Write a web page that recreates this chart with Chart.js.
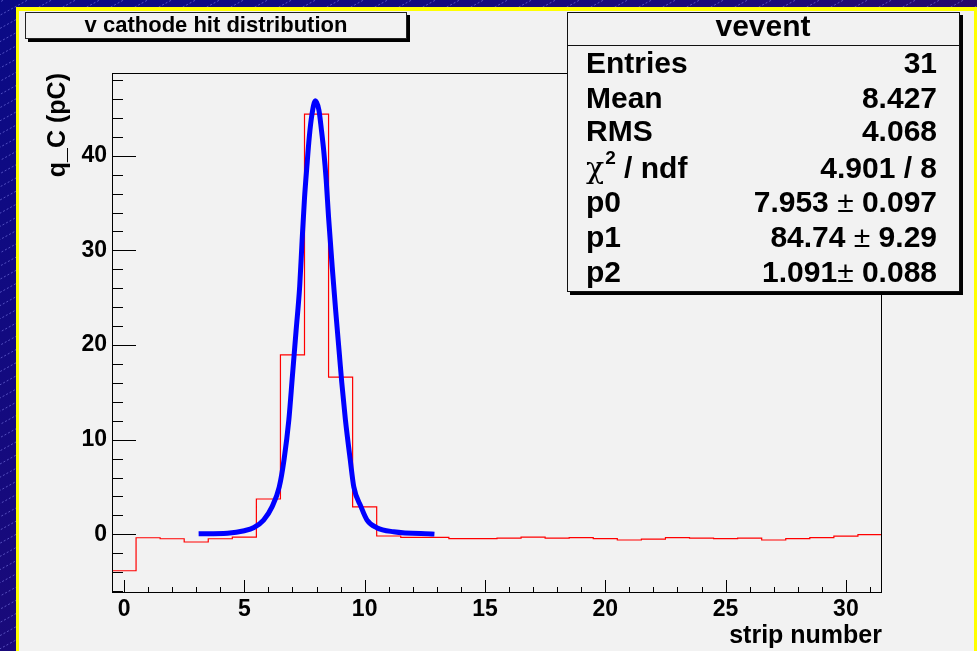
<!DOCTYPE html>
<html>
<head>
<meta charset="utf-8">
<script src="https://cdn.jsdelivr.net/npm/chart.js@4.4.1/dist/chart.umd.min.js"></script>
<style>
  html, body { margin: 0; padding: 0; overflow: hidden; background: #0a0a80; }
  #wrap { width: 977px; height: 651px; }
</style>
</head>
<body>
<div id="wrap"><canvas id="c" width="977" height="651"></canvas></div>
<script>
// Cathode strip numbers and the charge collected on each (pC)
const strips = [0, 1, 2, 3, 4, 5, 6, 7, 8, 9, 10, 11, 12, 13, 14, 15,
                16, 17, 18, 19, 20, 21, 22, 23, 24, 25, 26, 27, 28, 29, 30, 31];
const charge = [-3.85, -0.36, -0.47, -0.81, -0.47, -0.29, 3.73, 18.95,
                44.4, 16.6, 2.89, -0.18, -0.32, -0.32, -0.46, -0.45,
                -0.40, -0.30, -0.40, -0.35, -0.45, -0.60, -0.50, -0.35,
                -0.40, -0.45, -0.40, -0.60, -0.45, -0.35, -0.20, -0.04];

// Fitted peak curve, sampled over the fit range
const fitX = [3.1, 4.3, 5.0, 5.4, 5.8, 6.15, 6.45, 6.65, 6.85, 7.0, 7.15, 7.3, 7.4,
              7.5, 7.6, 7.7, 7.8, 7.95, 8.1, 8.2, 8.3, 8.4, 8.5, 8.65, 8.8, 8.95,
              9.05, 9.2, 9.4, 9.55, 9.85, 10.1, 10.5, 11.2, 12.9];
const fitY = [0.05, 0.12, 0.38, 0.72, 1.5, 2.9, 5.0, 7.9, 12.1, 16.8, 21.5, 26.2, 31.0,
              35.5, 38.9, 42.0, 44.2, 45.8, 44.8, 42.8, 40.5, 37.5, 33.5, 28.3, 23.5, 19.0,
              16.0, 12.1, 7.9, 5.0, 2.9, 1.5, 0.7, 0.27, 0.02];

// Axis labelling
const xTickValues = [0, 5, 10, 15, 20, 25, 30];
const yTickValues = [0, 10, 20, 30, 40];
const xMinorStep = 1;
const yMinorStep = 2;

// Statistics box contents
const histTitle = 'v cathode hit distribution';
const statsName = 'vevent';
const statNames = ['Entries', 'Mean', 'RMS', 'χ² / ndf', 'p0', 'p1', 'p2'];
const statValues = ['31', '8.427', '4.068', '4.901 / 8', '7.953', '84.74', '1.091'];
const statErrors = ['', '', '', '', '0.097', '9.29', '0.088'];

const FONT = '"Liberation Sans", Arial, Helvetica, sans-serif';
const PANEL = '#f2f2f2';

// Histogram outline: each bin becomes a flat segment across its width
const histPoints = strips.flatMap((s, i) => [
  { x: s - 0.5, y: charge[i] },
  { x: s + 0.5, y: charge[i] }
]);
const fitPoints = fitX.map((x, i) => ({ x, y: fitY[i] }));

const backdrop = {
  id: 'backdrop',
  beforeDraw(chart) {
    const ctx = chart.ctx;
    const W = chart.width, H = chart.height;
    ctx.save();
    const g = ctx.createLinearGradient(0, 0, 700, 700);
    g.addColorStop(0, '#0a0a86');
    g.addColorStop(0.55, '#1c0a78');
    g.addColorStop(1, '#3c004e');
    ctx.fillStyle = g;
    ctx.fillRect(0, 0, W, H);
    // diagonal hatch
    ctx.strokeStyle = 'rgba(150,150,255,0.5)';
    ctx.lineWidth = 1;
    ctx.setLineDash([2, 2]);
    for (let k = -1300; k < W + 40; k += 24) {
      ctx.beginPath();
      ctx.moveTo(k, H);
      ctx.lineTo(k + H / 0.55, 0);
      ctx.stroke();
    }
    ctx.setLineDash([]);
    // yellow border and pad
    ctx.fillStyle = '#ffff00';
    ctx.fillRect(16, 7, W - 16, H - 7);
    ctx.fillStyle = PANEL;
    ctx.fillRect(19, 11, W - 19 - 3, H - 11);

    // title box
    const tl = 25, tt = 12, tr = 407, tb = 39;
    ctx.fillStyle = '#000';
    ctx.fillRect(tl + 3, tt + 3, tr - tl, tb - tt);
    ctx.fillStyle = PANEL;
    ctx.fillRect(tl, tt, tr - tl, tb - tt);
    ctx.strokeStyle = '#222';
    ctx.strokeRect(tl + 0.5, tt + 0.5, tr - tl - 1, tb - tt - 1);
    ctx.fillStyle = '#000';
    ctx.font = 'bold 22px ' + FONT;
    ctx.textAlign = 'center';
    ctx.textBaseline = 'alphabetic';
    ctx.fillText(histTitle, (tl + tr) / 2, 32);
    ctx.restore();
  }
};

const frameAndTicks = {
  id: 'frameAndTicks',
  afterDatasetsDraw(chart) {
    const { ctx, chartArea: a, scales: { x, y } } = chart;
    ctx.save();
    ctx.strokeStyle = '#000';
    ctx.lineWidth = 1;
    ctx.strokeRect(Math.round(a.left) + 0.5, Math.round(a.top) + 0.5,
                   Math.round(a.right - a.left) - 1, Math.round(a.bottom - a.top) - 1);
    ctx.beginPath();
    // x ticks, pointing up from the bottom edge
    for (let v = Math.ceil(x.min); v <= x.max; v += xMinorStep) {
      const px = Math.round(x.getPixelForValue(v)) + 0.5;
      const len = xTickValues.includes(v) ? 13 : 6;
      ctx.moveTo(px, a.bottom);
      ctx.lineTo(px, a.bottom - len);
    }
    // y ticks, pointing right from the left edge
    const y0 = Math.ceil(y.min / yMinorStep) * yMinorStep;
    for (let v = y0; v <= y.max; v += yMinorStep) {
      const py = Math.round(y.getPixelForValue(v)) + 0.5;
      const len = yTickValues.includes(v) ? 24 : 11;
      ctx.moveTo(a.left, py);
      ctx.lineTo(a.left + len, py);
    }
    ctx.stroke();
    ctx.restore();
  },
  afterDraw(chart) {
    const ctx = chart.ctx;
    const L = 567, T = 12, R = 960, B = 292;
    const SZ = 30;
    ctx.save();
    ctx.fillStyle = '#000';
    ctx.fillRect(L + 3, T + 3, R - L, B - T);
    ctx.fillStyle = PANEL;
    ctx.fillRect(L, T, R - L, B - T);
    ctx.strokeStyle = '#111';
    ctx.lineWidth = 1;
    ctx.strokeRect(L + 0.5, T + 0.5, R - L - 1, B - T - 1);
    ctx.beginPath();
    ctx.moveTo(L, 45.5);
    ctx.lineTo(R, 45.5);
    ctx.stroke();

    ctx.fillStyle = '#000';
    ctx.textBaseline = 'alphabetic';
    ctx.font = 'bold ' + SZ + 'px ' + FONT;
    ctx.textAlign = 'center';
    ctx.fillText(statsName, 763, 36);

    const baselines = [72.5, 107.5, 141, 178, 211.5, 247, 282];
    const labelX = 586, valueR = 937;
    statNames.forEach((name, i) => {
      const by = baselines[i];
      ctx.textAlign = 'left';
      let cx = labelX;
      if (name.includes('²')) {
        const [pre, post] = name.split('²');
        ctx.font = SZ + 'px "DejaVu Serif", serif';
        ctx.fillText(pre, cx, by);
        cx += ctx.measureText(pre).width + 1;
        ctx.font = 'bold 19px ' + FONT;
        ctx.fillText('2', cx, by - 14);
        cx += ctx.measureText('2').width;
        ctx.font = 'bold ' + SZ + 'px ' + FONT;
        ctx.fillText(post, cx, by);
      } else {
        ctx.font = 'bold ' + SZ + 'px ' + FONT;
        ctx.fillText(name, cx, by);
      }
      // value (± error), right aligned
      ctx.textAlign = 'right';
      let rx = valueR;
      if (statErrors[i]) {
        ctx.font = 'bold ' + SZ + 'px ' + FONT;
        const err = ' ' + statErrors[i];
        ctx.fillText(err, rx, by);
        rx -= ctx.measureText(err).width;
        ctx.font = SZ + 'px ' + FONT;
        ctx.fillText('±', rx, by);
        rx -= ctx.measureText('±').width;
        ctx.font = 'bold ' + SZ + 'px ' + FONT;
        const val = statValues[i] + (i === 6 ? '' : ' ');
        ctx.fillText(val, rx, by);
      } else {
        ctx.font = 'bold ' + SZ + 'px ' + FONT;
        ctx.fillText(statValues[i], rx, by);
      }
    });
    ctx.restore();
  }
};

const axisFont = { family: FONT, size: 23, weight: 'bold' };
const titleFont = { family: FONT, size: 25, weight: 'bold' };

new Chart(document.getElementById('c'), {
  type: 'line',
  data: {
    datasets: [
      {
        label: 'charge',
        data: histPoints,
        borderColor: '#ff0000',
        borderWidth: 1.2,
        pointRadius: 0,
        fill: false,
        tension: 0,
        order: 2
      },
      {
        label: 'fit',
        data: fitPoints,
        borderColor: '#0000ff',
        borderWidth: 5,
        pointRadius: 0,
        fill: false,
        cubicInterpolationMode: 'monotone',
        order: 1
      }
    ]
  },
  options: {
    responsive: false,
    devicePixelRatio: 1,
    animation: false,
    events: [],
    layout: { autoPadding: false, padding: { left: 19, right: 95, top: 73, bottom: 0 } },
    plugins: { legend: { display: false }, tooltip: { enabled: false }, title: { display: false } },
    scales: {
      x: {
        type: 'linear',
        min: -0.5,
        max: 31.5,
        grid: { display: false, drawTicks: false },
        border: { display: false },
        ticks: { font: axisFont, color: '#000', padding: 3, maxRotation: 0 },
        afterBuildTicks(s) { s.ticks = xTickValues.map(v => ({ value: v })); },
        afterFit(s) { s.height = 58; },
        title: { display: true, text: 'strip number', align: 'end', color: '#000',
                 font: titleFont, padding: { top: 0, bottom: 0 } }
      },
      y: {
        type: 'linear',
        min: -6.2,
        max: 48.74,
        grid: { display: false, drawTicks: false },
        border: { display: false },
        ticks: { font: axisFont, color: '#000', padding: 5 },
        afterBuildTicks(s) { s.ticks = yTickValues.map(v => ({ value: v })); },
        afterFit(s) { s.width = 93; },
        title: { display: true, text: 'q_C (pC)', align: 'end', color: '#000',
                 font: titleFont, padding: { top: 24, bottom: 0 } }
      }
    }
  },
  plugins: [backdrop, frameAndTicks]
});
</script>
</body>
</html>
